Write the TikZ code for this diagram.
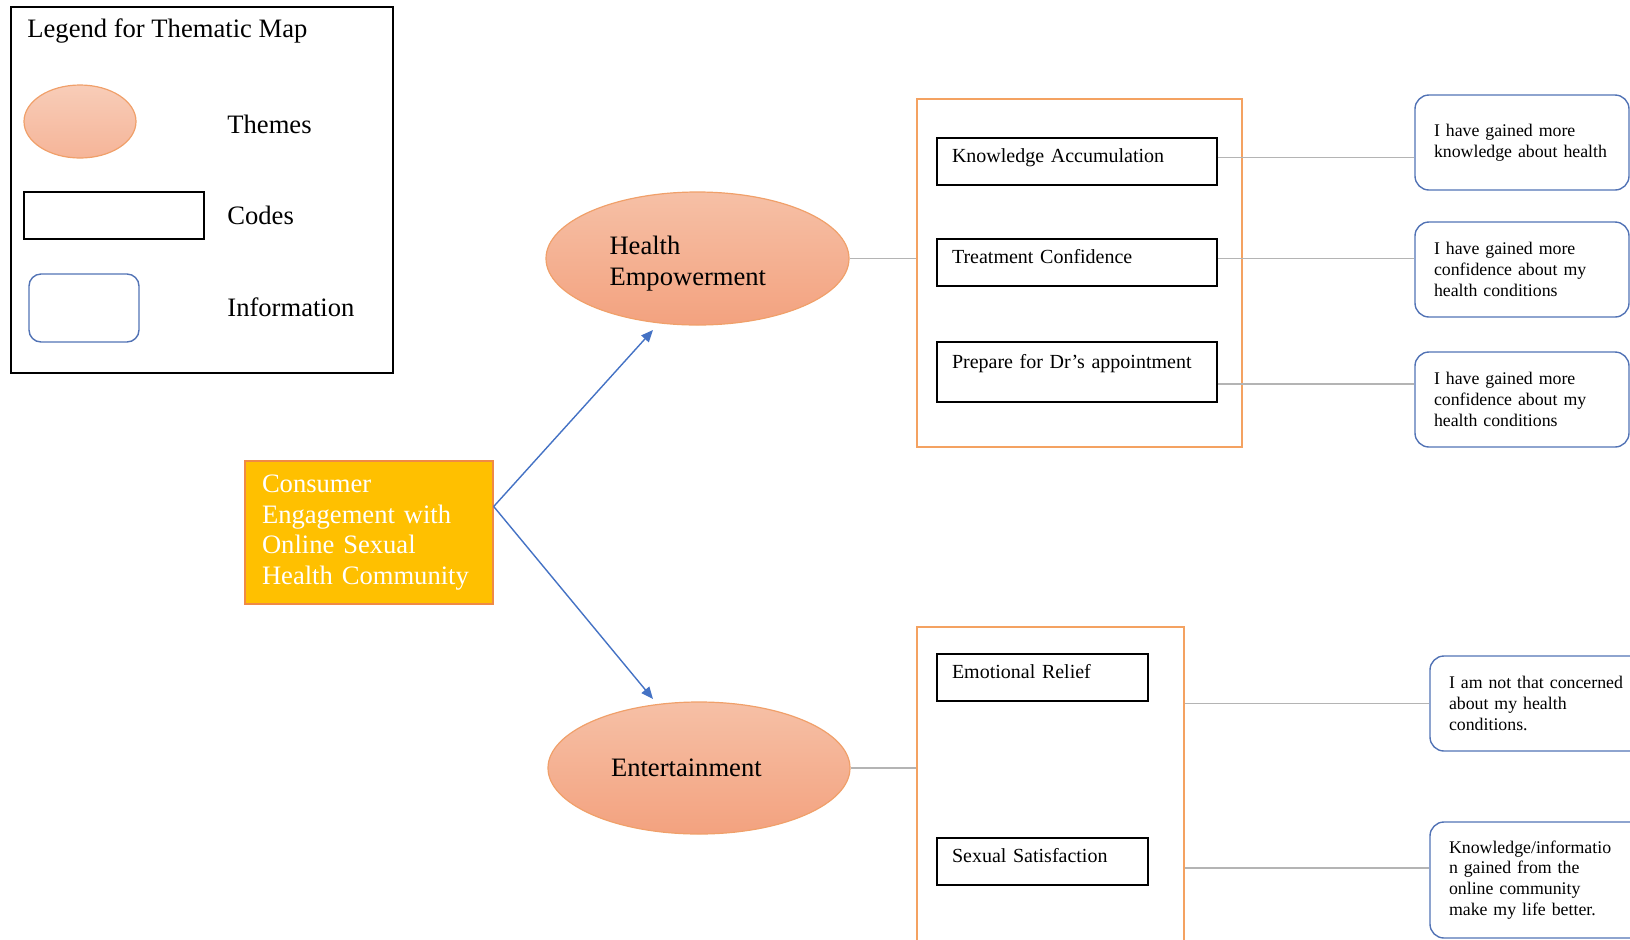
\documentclass[tikz,border=0pt]{standalone}
\usepackage{fontspec}
\setmainfont{Liberation Serif}
\usetikzlibrary{positioning,shapes.geometric,arrows.meta}
\definecolor{themetop}{HTML}{F6C0A6}
\definecolor{themebot}{HTML}{F3A27F}
\definecolor{themeline}{HTML}{F0A06A}
\definecolor{boxline}{HTML}{F4A261}
\definecolor{coreline}{HTML}{F08A45}
\definecolor{gold}{HTML}{FFC000}
\definecolor{infoline}{HTML}{5273B5}
\definecolor{arrowblue}{HTML}{4472C4}
\definecolor{linkgray}{HTML}{B4B4B4}
\begin{document}
\begin{tikzpicture}[x=0.5pt,y=-0.5pt,
    theme/.style={ellipse,draw=themeline,line width=0.6pt,top color=themetop,bottom color=themebot,
        align=left,text width=88pt,inner sep=0pt,font=\fontsize{13.3}{15.5}\selectfont},
    core/.style={draw=coreline,line width=0.7pt,fill=gold,text=white,align=left,text width=107pt,
        inner xsep=8.5pt,minimum height=71.5pt,font=\fontsize{13.3}{15.3}\selectfont},
    cbox/.style={draw=boxline,line width=0.7pt},
    code/.style={draw,line width=0.8pt,align=left,text width=125pt,inner xsep=7.5pt,
        minimum height=23.5pt,text height=7pt,text depth=6pt,font=\fontsize{10}{12}\selectfont},
    info/.style={draw=infoline,line width=0.7pt,rounded corners=7pt,align=left,text width=88pt,
        inner xsep=9.5pt,minimum height=47.5pt,font=\fontsize{8.9}{10.4}\selectfont},
    legtext/.style={anchor=west,inner sep=0pt,font=\fontsize{13.3}{15.5}\selectfont},
    link/.style={draw=linkgray,line width=0.8pt},
    arr/.style={draw=arrowblue,line width=0.7pt,-{Triangle[length=6pt,width=5pt]}}]
\useasboundingbox (0,0) rectangle (1630,939);
\clip (0,0) rectangle (1630,939);

\node[draw,line width=0.7pt,minimum width=191pt,minimum height=183pt] (leg) at (202,190) {};
\node[legtext] (ltitle) at (27,31) {Legend for Thematic Map};
\node[ellipse,draw=themeline,line width=0.6pt,top color=themetop!80!white,bottom color=themebot!80!white,
    minimum width=56pt,minimum height=36.5pt,inner sep=0pt] (lthm) at (80,121.5) {};
\node[draw,line width=0.8pt,minimum width=90pt,minimum height=23.5pt] (lcod) at (114,215.5) {};
\node[draw=infoline,line width=0.7pt,rounded corners=6pt,minimum width=55pt,minimum height=34pt] (linf) at (84,308) {};
\node[legtext] (lthmtxt) at (227,124) {Themes};
\node[legtext] (lcodtxt) at (227,215) {Codes};
\node[legtext] (linftxt) at (227,307) {Information};

\node[core] (core) at (369,532.5) {Consumer\\Engagement with\\Online Sexual\\Health Community};
\node[theme,minimum width=151.5pt,minimum height=66.5pt,text height=14.3pt] (he) at (697.5,258.5) {Health\\Empowerment};
\node[theme,minimum width=151pt,minimum height=66pt] (ent) at (699,768) {Entertainment};

\coordinate (src) at ([yshift=13pt]core.east);
\coordinate (hetip) at (653,330);
\coordinate (enttip) at (653,699);
\draw[arr] (src) -- (hetip);
\draw[arr] (src) -- (enttip);

\node[cbox,minimum width=162.5pt,minimum height=174pt] (hbox) at (1079.5,273) {};
\node[cbox,minimum width=133.5pt,minimum height=186.5pt] (ebox) at (1050.5,813.5) {};

\node[code] (ka) at (1077,161.5) {Knowledge Accumulation};
\node[code] (tc) at (1077,262.5) {Treatment Confidence};
\node[code,minimum height=30pt,text depth=11pt] (pda) at (1077,372) {Prepare for Dr’s appointment};
\node[code,text width=90.5pt] (er) at (1042.5,677.5) {Emotional Relief};
\node[code,text width=90.5pt] (ss) at (1042.5,861.5) {Sexual Satisfaction};

\node[info] (i1) at (1522,142.5) {I have gained more\\knowledge about health};
\node[info] (i2) at (1522,269.5) {I have gained more\\confidence about my\\health conditions};
\node[info] (i3) at (1522,399.5) {I have gained more\\confidence about my\\health conditions};
\node[info,text width=101pt] (i4) at (1550,703.5) {I am not that concerned\\about my health\\conditions.};
\node[info,text width=101pt,minimum height=58pt] (i5) at (1550,880) {Knowledge/informatio\\n gained from the\\online community\\make my life better.};

\draw[link] (he.east) -- (he.east -| hbox.west);
\draw[link] ([yshift=2pt]ka.east) -- ([yshift=2pt]ka.east -| i1.west);
\draw[link] ([yshift=2pt]tc.east) -- ([yshift=2pt]tc.east -| i2.west);
\draw[link] ([yshift=-6pt]pda.east) -- ([yshift=-6pt]pda.east -| i3.west);
\draw[link] (ent.east) -- (ent.east -| ebox.west);
\draw[link] (i4.west -| ebox.east) -- (i4.west);
\draw[link] ([yshift=6pt]i5.west -| ebox.east) -- ([yshift=6pt]i5.west);
\end{tikzpicture}
\end{document}
